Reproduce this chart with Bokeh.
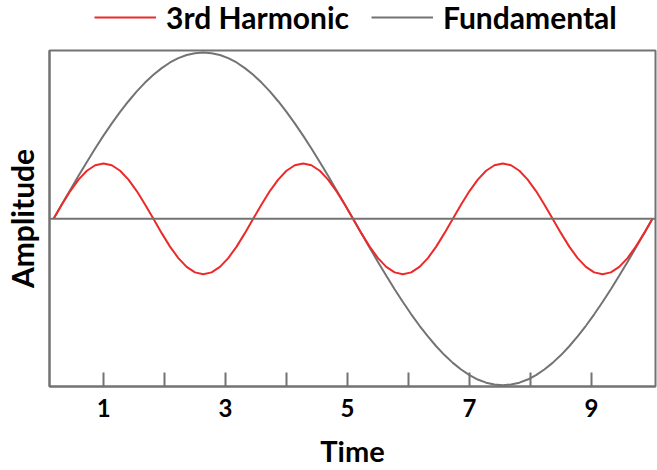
from bokeh.plotting import figure
from bokeh.models import Legend, LegendItem, Span, FixedTicker, Range1d
from bokeh.layouts import column
from bokeh.embed import file_html
from bokeh.resources import INLINE

# Time samples
time = [0.180, 0.316, 0.453, 0.589, 0.726, 0.862, 0.998, 1.135, 1.271, 1.408,
        1.544, 1.680, 1.817, 1.953, 2.089, 2.226, 2.362, 2.499, 2.635, 2.771,
        2.908, 3.044, 3.181, 3.317, 3.453, 3.590, 3.726, 3.863, 3.999, 4.135,
        4.272, 4.408, 4.545, 4.681, 4.817, 4.954, 5.090, 5.226, 5.363, 5.499,
        5.636, 5.772, 5.908, 6.045, 6.181, 6.318, 6.454, 6.590, 6.727, 6.863,
        7.000, 7.136, 7.272, 7.409, 7.545, 7.681, 7.818, 7.954, 8.091, 8.227,
        8.363, 8.500, 8.636, 8.773, 8.909, 9.045, 9.182, 9.318, 9.454, 9.591,
        9.727, 9.864, 10.000]

fundamental = [0.000, 0.087, 0.174, 0.259, 0.342, 0.423, 0.500, 0.574, 0.643, 0.707,
               0.766, 0.819, 0.866, 0.906, 0.940, 0.966, 0.985, 0.996, 1.000, 0.996,
               0.985, 0.966, 0.940, 0.906, 0.866, 0.819, 0.766, 0.707, 0.643, 0.574,
               0.500, 0.423, 0.342, 0.259, 0.174, 0.087, 0.000, -0.087, -0.174, -0.259,
               -0.342, -0.423, -0.500, -0.574, -0.643, -0.707, -0.766, -0.819, -0.866, -0.906,
               -0.940, -0.966, -0.985, -0.996, -1.000, -0.996, -0.985, -0.966, -0.940, -0.906,
               -0.866, -0.819, -0.766, -0.707, -0.643, -0.574, -0.500, -0.423, -0.342, -0.259,
               -0.174, -0.087, 0.000]

harmonic = [0.000, 0.086, 0.167, 0.236, 0.289, 0.322, 0.333, 0.322, 0.289, 0.236,
            0.167, 0.086, 0.000, -0.086, -0.167, -0.236, -0.289, -0.322, -0.333, -0.322,
            -0.289, -0.236, -0.167, -0.086,
            0.000, 0.086, 0.167, 0.236, 0.289, 0.322, 0.333, 0.322, 0.289, 0.236,
            0.167, 0.086, 0.000, -0.086, -0.167, -0.236, -0.289, -0.322, -0.333, -0.322,
            -0.289, -0.236, -0.167, -0.086,
            0.000, 0.086, 0.167, 0.236, 0.289, 0.322, 0.333, 0.322, 0.289, 0.236,
            0.167, 0.086, 0.000, -0.086, -0.167, -0.236, -0.289, -0.322, -0.333, -0.322,
            -0.289, -0.236, -0.167, -0.086, 0.000]

series_names = ["3rd Harmonic", "Fundamental"]

tick_values = [1, 2, 3, 4, 5, 6, 7, 8, 9]
tick_labels = {1: "1", 2: "", 3: "3", 4: "", 5: "5", 6: "", 7: "7", 8: "", 9: "9"}

FONT = "Lato"
GRAY = "#737373"
RED = "#ec2a2a"

# ---- main chart ----
p = figure(width=657, height=422, x_range=(0.113, 10.05), y_range=(-1.008, 1.012),
           output_backend="svg", toolbar_location=None,
           min_border_left=0, min_border_right=2, min_border_top=2, min_border_bottom=0)

p.xgrid.visible = False
p.ygrid.visible = False
p.outline_line_color = GRAY
p.outline_line_width = 2
p.background_fill_color = "white"
p.border_fill_color = "white"

xa = p.xaxis[0]
xa.ticker = FixedTicker(ticks=tick_values)
xa.major_label_overrides = tick_labels
xa.major_tick_in = 14
xa.major_tick_out = 0
xa.minor_tick_line_color = None
xa.major_tick_line_color = GRAY
xa.major_tick_line_width = 2
xa.axis_line_color = GRAY
xa.axis_line_width = 2
xa.major_label_text_font = FONT
xa.major_label_text_font_style = "bold"
xa.major_label_text_font_size = "24px"
xa.major_label_text_color = "black"
xa.major_label_standoff = 12
xa.axis_label = "Time"
xa.axis_label_text_font = FONT
xa.axis_label_text_font_style = "bold"
xa.axis_label_text_font_size = "29px"
xa.axis_label_text_color = "black"
xa.axis_label_standoff = 13

ya = p.yaxis[0]
ya.ticker = FixedTicker(ticks=[])
ya.major_tick_line_color = None
ya.minor_tick_line_color = None
ya.axis_line_color = GRAY
ya.axis_line_width = 2
ya.axis_label = "Amplitude"
ya.axis_label_text_font = FONT
ya.axis_label_text_font_style = "bold"
ya.axis_label_text_font_size = "30px"
ya.axis_label_text_color = "black"
ya.axis_label_standoff = 10
ya.major_label_text_font_size = "0px"

p.add_layout(Span(location=0, dimension="width", line_color=GRAY, line_width=2))

p.line(time, fundamental, line_color=GRAY, line_width=2)
p.line(time, harmonic, line_color=RED, line_width=2)

# ---- legend strip (its ranges keep the sample lines out of view) ----
lg = figure(width=657, height=48, x_range=Range1d(100, 101), y_range=Range1d(100, 101),
            output_backend="svg", toolbar_location=None,
            min_border_left=0, min_border_right=0, min_border_top=0, min_border_bottom=0)
lg.axis.visible = False
lg.xgrid.visible = False
lg.ygrid.visible = False
lg.outline_line_color = None
gh = lg.line(time, harmonic, line_color=RED, line_width=2)
gf = lg.line(time, fundamental, line_color=GRAY, line_width=2)

legend = Legend(items=[LegendItem(label=series_names[0], renderers=[gh]),
                       LegendItem(label=series_names[1], renderers=[gf])],
                orientation="horizontal", location=(45, 13),
                glyph_width=62, glyph_height=28, label_height=28,
                label_standoff=10, spacing=22, padding=0, margin=0,
                label_text_font=FONT, label_text_font_style="bold",
                label_text_font_size="30px", label_text_color="black",
                background_fill_alpha=0, border_line_alpha=0)
lg.add_layout(legend, "center")

layout = column(lg, p, spacing=0)
open("out.html", "w").write(file_html(layout, INLINE))
